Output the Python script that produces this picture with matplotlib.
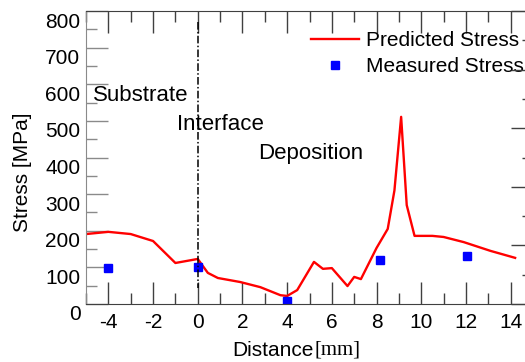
import matplotlib
matplotlib.use("Agg")
import matplotlib.pyplot as plt
from matplotlib.transforms import ScaledTranslation
from matplotlib.ticker import MultipleLocator

plt.rcParams['font.family'] = ['Liberation Sans', 'DejaVu Sans']

# Predicted stress (red line)
pred_x = [-5.0, -4.0, -3.0, -2.0, -1.0, 0.0, 0.45, 0.9, 1.9, 2.8, 3.7, 4.0, 4.45,
          5.2, 5.6, 6.0, 6.7, 7.0, 7.3, 8.0, 8.5, 8.8, 9.1, 9.35, 9.7, 10.5,
          11.0, 11.9, 13.1, 14.2]
pred_y = [191, 197, 191, 172, 112, 123, 85, 71, 60, 46, 24, 22, 38,
          115, 96, 98, 49, 74, 68, 153, 205, 310, 511, 270, 186, 186,
          183, 169, 145, 126]

# Measured stress (blue squares)
meas_x = [-4.0, 0.0, 4.0, 8.17, 12.05]
meas_y = [98, 100, 8, 120, 131]

xticks = [-4, -2, 0, 2, 4, 6, 8, 10, 12, 14]
yticks = [0, 100, 200, 300, 400, 500, 600, 700, 800]

W, H = 525, 362
fig = plt.figure(figsize=(W / 100, H / 100), dpi=100)
left, right, top, bottom = 86, 533, 11, 304
ax = fig.add_axes([left / W, (H - bottom) / H, (right - left) / W, (bottom - top) / H])

ax.plot(pred_x, pred_y, color='#FF0000', lw=1.7, label='Predicted Stress')
ax.plot(meas_x, meas_y, ls='none', marker='s', ms=6, color='#0000FF', label='Measured Stress')
ax.plot([0, 0], [770, 45], color='black', lw=1.1, ls=(0, (5, 1.5, 1, 1.5)))

ax.set_xlim(-5, 15)
ax.set_ylim(0, 800)
ax.set_xticks(xticks)
ax.set_xticklabels([str(v) for v in xticks])
ax.set_yticks(yticks)
ax.set_yticklabels([str(v) for v in yticks])
ax.xaxis.set_minor_locator(MultipleLocator(1))
ax.yaxis.set_minor_locator(MultipleLocator(50))

dark = '#404040'
grey = '#8a8a8a'
ax.tick_params(axis='both', which='major', direction='in', length=15.8, width=1.0,
               labelsize=15, top=True)
ax.tick_params(axis='both', which='minor', direction='in', length=7.9, width=1.0, top=True)
ax.tick_params(axis='x', which='both', color=dark, pad=6.5)
ax.tick_params(axis='y', which='both', color=grey, pad=4)
for s in ['top', 'bottom', 'right']:
    ax.spines[s].set_color(dark)
ax.spines['left'].set_color(grey)

# y tick labels are shifted down in the reference
off = ScaledTranslation(0, -9 / 100, fig.dpi_scale_trans)
for lab in ax.get_yticklabels():
    lab.set_transform(lab.get_transform() + off)

# right axis ticks (different scale)
ax2 = ax.twinx()
ax2.set_ylim(0, 5)
ax2.yaxis.set_major_locator(MultipleLocator(1))
ax2.yaxis.set_minor_locator(MultipleLocator(0.5))
ax2.tick_params(axis='y', which='major', direction='in', length=15.8, width=1.0,
                color=dark, labelright=False)
ax2.tick_params(axis='y', which='minor', direction='in', length=7.9, width=1.0,
                color=dark)
for s in ax2.spines.values():
    s.set_visible(False)

ax.text(-4.69, 568, 'Substrate', fontsize=16, va='center', ha='left')
ax.text(-0.94, 489, 'Interface', fontsize=16, va='center', ha='left')
ax.text(2.68, 412, 'Deposition', fontsize=16, va='center', ha='left')

fig.text(23 / W, (H - 172) / H, 'Stress [MPa]', rotation=90, fontsize=15,
         ha='center', va='center')
fig.text(232 / W, (H - 350) / H, 'Distance', fontsize=15, ha='left', va='center')
fig.text(315 / W, (H - 350) / H, '[mm]', fontsize=15, ha='left', va='center',
         family=['Liberation Serif', 'DejaVu Serif'])

ax.legend(loc='upper left', bbox_to_anchor=(311 / W, (H - 31) / H),
          bbox_transform=fig.transFigure, frameon=False, fontsize=15,
          borderpad=0, borderaxespad=0, handlelength=2.3, handletextpad=0.35,
          labelspacing=0.35)

fig.savefig('out.png', dpi=100)
